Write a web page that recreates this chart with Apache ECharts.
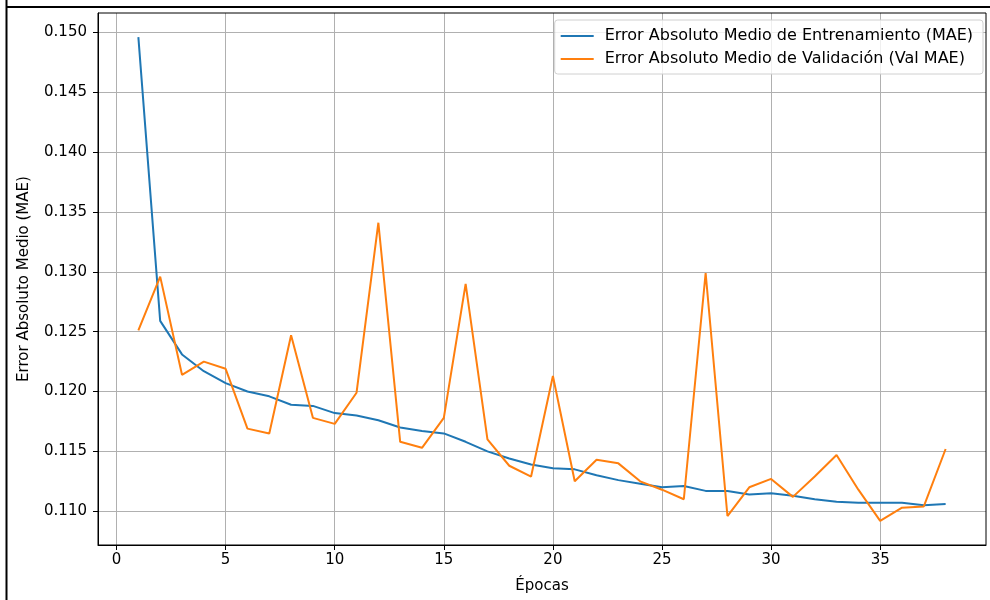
<!DOCTYPE html>
<html>
<head>
<meta charset="utf-8">
<script src="https://cdn.jsdelivr.net/npm/echarts@6/dist/echarts.min.js"></script>
<style>html,body{margin:0;padding:0;background:#fff;}#c{width:990px;height:600px;}</style>
</head>
<body>
<div id="c"></div>
<script>
const epochs = [1,2,3,4,5,6,7,8,9,10,11,12,13,14,15,16,17,18,19,20,21,22,23,24,25,26,27,28,29,30,31,32,33,34,35,36,37,38];
const trainMAE = [0.1496,0.1259,0.1231,0.1217,0.1207,0.1200,0.1196,0.1189,0.1188,0.1182,0.1180,0.1176,0.1170,0.1167,0.1165,0.1158,0.1150,0.1144,0.1139,0.1136,0.1135,0.1130,0.1126,0.1123,0.1120,0.1121,0.1117,0.1117,0.1114,0.1115,0.1113,0.1110,0.1108,0.1107,0.1107,0.1107,0.1105,0.1106];
const valMAE = [0.1251,0.1296,0.1214,0.1225,0.1219,0.1169,0.1165,0.1247,0.1178,0.1173,0.1199,0.1341,0.1158,0.1153,0.1178,0.1290,0.1160,0.1138,0.1129,0.1213,0.1125,0.1143,0.1140,0.1125,0.1118,0.1110,0.1299,0.1096,0.1120,0.1127,0.1112,0.1129,0.1147,0.1118,0.1092,0.1103,0.1104,0.1152];
const xTicks = [0,5,10,15,20,25,30,35];
const yTicks = [0.110,0.115,0.120,0.125,0.130,0.135,0.140,0.145,0.150];
const seriesNames = ['Error Absoluto Medio de Entrenamiento (MAE)','Error Absoluto Medio de Validación (Val MAE)'];
const xName = 'Épocas';
const yName = 'Error Absoluto Medio (MAE)';

const font = 'DejaVu Sans';
const fs = 15;
const chart = echarts.init(document.getElementById('c'), null, {renderer:'canvas'});
chart.setOption({
  animation:false,
  backgroundColor:'#fff',
  textStyle:{fontFamily:font},
  graphic:[
    {type:'line', shape:{x1:6.5,y1:0,x2:6.5,y2:600}, style:{stroke:'#000',lineWidth:2}, z:100},
    {type:'line', shape:{x1:6,y1:7,x2:990,y2:7}, style:{stroke:'#000',lineWidth:2}, z:100},
    {type:'rect', shape:{x:98,y:13,width:888,height:532}, style:{fill:'none',stroke:'#000',lineWidth:1}, z:50, silent:true}
  ],
  grid:{left:98,right:4,top:13,bottom:55,containLabel:false,outerBoundsMode:'none'},
  legend:{
    orient:'vertical', right:7, top:20,
    backgroundColor:'rgba(255,255,255,0.8)', borderColor:'#d0d0d0', borderWidth:1, borderRadius:3,
    padding:[8,10,7,6],
    itemGap:7, itemWidth:33, itemHeight:2, icon:'rect',
    textStyle:{fontFamily:font,fontSize:16,color:'#000',padding:[0,0,0,6]},
    data:seriesNames
  },
  xAxis:{
    type:'value', min:-0.85, max:39.85,
    name:xName, nameLocation:'middle', nameGap:34,
    nameTextStyle:{fontFamily:font,fontSize:fs,color:'#000'},
    axisLine:{show:true,onZero:false,lineStyle:{color:'#000',width:1}},
    axisTick:{show:true,length:5,lineStyle:{color:'#000'},customValues:xTicks},
    axisLabel:{customValues:xTicks,fontFamily:font,fontSize:fs,color:'#000',margin:8,formatter:v=>String(v)},
    splitLine:{show:true,lineStyle:{color:'#b0b0b0',width:1}}
  },
  yAxis:{
    type:'value', min:0.10718, max:0.15162,
    name:yName, nameLocation:'middle', nameGap:66, nameRotate:90,
    nameTextStyle:{fontFamily:font,fontSize:fs,color:'#000'},
    axisLine:{show:true,onZero:false,lineStyle:{color:'#000',width:1}},
    axisTick:{show:true,length:5,lineStyle:{color:'#000'},customValues:yTicks},
    axisLabel:{customValues:yTicks,fontFamily:font,fontSize:fs,color:'#000',margin:11,formatter:v=>v.toFixed(3)},
    splitLine:{show:true,lineStyle:{color:'#b0b0b0',width:1}}
  },
  series:[
    {name:seriesNames[0], type:'line', data:epochs.map((e,i)=>[e,trainMAE[i]]), showSymbol:false, symbol:'none', lineStyle:{color:'#1f77b4',width:2}, itemStyle:{color:'#1f77b4'}},
    {name:seriesNames[1], type:'line', data:epochs.map((e,i)=>[e,valMAE[i]]), showSymbol:false, symbol:'none', lineStyle:{color:'#ff7f0e',width:2}, itemStyle:{color:'#ff7f0e'}}
  ]
});
</script>
</body>
</html>
